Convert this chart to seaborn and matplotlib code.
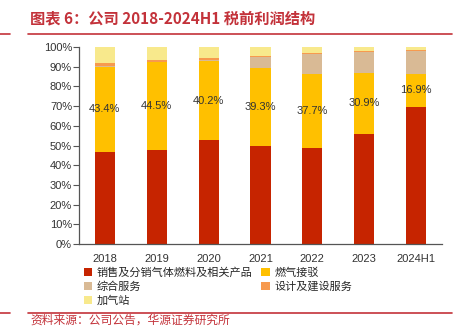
import matplotlib
matplotlib.use("Agg")
import matplotlib.pyplot as plt
from matplotlib.lines import Line2D
from matplotlib.patches import Patch
from matplotlib.ticker import PercentFormatter, FixedLocator
import numpy as np
import pandas as pd
import seaborn as sns

# Data: share of pre-tax profit by business segment (%)
years = ["2018", "2019", "2020", "2021", "2022", "2023", "2024H1"]
gas_sales = [46.6, 47.8, 52.7, 49.8, 48.6, 55.9, 69.6]      # 销售及分销气体燃料及相关产品
connection = [43.4, 44.5, 40.2, 39.3, 37.7, 30.9, 16.9]     # 燃气接驳
services = [0.5, 0.3, 0.5, 5.6, 10.1, 10.8, 11.3]           # 综合服务
design = [1.2, 1.0, 1.2, 0.7, 0.5, 0.5, 0.5]                # 设计及建设服务
stations = [8.3, 6.4, 5.4, 4.6, 3.1, 1.9, 1.7]              # 加气站

series_names = ["销售及分销气体燃料及相关产品", "燃气接驳", "综合服务", "设计及建设服务", "加气站"]
series_vals = [gas_sales, connection, services, design, stations]
colors = ["#C62400", "#FFC000", "#D9BA95", "#F79A4E", "#F8E98C"]

sns.set_theme(style="white")
plt.rcParams["font.family"] = ["Liberation Sans", "Noto Sans CJK SC", "DejaVu Sans"]

W, H = 469, 328
fig = plt.figure(figsize=(W / 100, H / 100), dpi=100)
ax = fig.add_axes([79 / W, (H - 244) / H, (442 - 79) / W, (244 - 47) / H])

# Stacked bars: draw cumulative totals from the top segment down
df = pd.DataFrame({"year": years})
cum = np.zeros(len(years))
cums = []
for v in series_vals:
    cum = cum + np.array(v) / 100.0
    cums.append(cum.copy())
for name, c, col in reversed(list(zip(series_names, cums, colors))):
    df["v"] = c
    sns.barplot(data=df, x="year", y="v", order=years, color=col, width=0.39,
                saturation=1, ax=ax, edgecolor="none", linewidth=0)

# Value labels for the connection segment
for i, (a, b) in enumerate(zip(gas_sales, connection)):
    ax.text(i, (a + b / 2) / 100.0, f"{b:.1f}%", ha="center", va="center",
            fontsize=8, color="#333333")

ax.set_xlim(-0.5, len(years) - 0.5)
ax.set_ylim(0, 1)
ax.yaxis.set_major_locator(FixedLocator(np.arange(0, 1.01, 0.1)))
ax.yaxis.set_major_formatter(PercentFormatter(1.0, decimals=0))
ax.set_xlabel("")
ax.set_ylabel("")
ax.xaxis.set_minor_locator(FixedLocator(np.arange(-0.5, len(years), 1.0)))
ax.tick_params(axis="x", which="major", length=0, labelsize=8, pad=7, labelcolor="#333333")
ax.tick_params(axis="x", which="minor", length=4, width=0.8, color="#555555", direction="out")
ax.tick_params(axis="y", length=4, width=0.8, color="#555555", direction="out",
               labelsize=8, pad=1, labelcolor="#333333", left=True)
for s in ["top", "right"]:
    ax.spines[s].set_visible(False)
for s in ["left", "bottom"]:
    ax.spines[s].set_color("#555555")
    ax.spines[s].set_linewidth(0.9)

# Legend below the plot
handles = [Patch(facecolor=c, edgecolor="none") for c in colors]
order = [0, 2, 4, 1, 3]
fig.legend([handles[i] for i in order], [series_names[i] for i in order],
           loc="upper left", bbox_to_anchor=(84 / W, 1 - 267 / H), ncol=2,
           frameon=False, fontsize=8, handlelength=0.75, handleheight=0.75,
           handletextpad=0.4, labelspacing=0.35, columnspacing=0.8,
           borderpad=0, borderaxespad=0)

# Title and report rules
red = "#C3323A"
fig.text(30 / W, 1 - 18 / H, "图表 6：公司 2018-2024H1 税前利润结构", color=red,
         fontsize=11, fontweight="bold", va="center", ha="left",
         family=["Noto Sans CJK SC", "DejaVu Sans"])
for y in (34, 313):
    fig.add_artist(Line2D([0, 10 / W], [1 - y / H] * 2, color=red, lw=1.2))
    fig.add_artist(Line2D([28 / W, 452 / W], [1 - y / H] * 2, color=red, lw=1.2))
fig.text(30 / W, 1 - 327 / H, "资料来源：公司公告，华源证券研究所", color=red,
         fontsize=8.5, va="bottom", ha="left", family=["Noto Sans CJK SC", "DejaVu Sans"])

fig.savefig("out.png", dpi=100)
